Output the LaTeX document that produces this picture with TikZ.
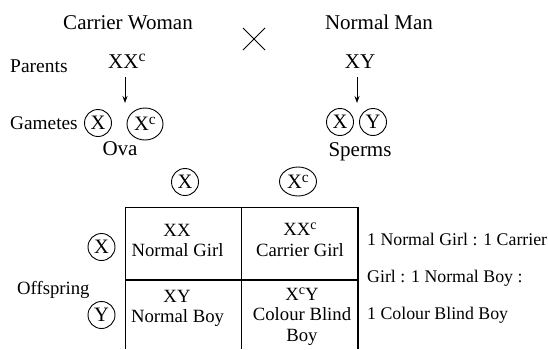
\documentclass[tikz,border=0pt]{standalone}
\usepackage{fontspec}
\usepackage{graphicx}
\setmainfont{Liberation Serif}
\usetikzlibrary{shapes.geometric,arrows.meta}
\newcommand{\supc}{\raisebox{0.3em}{\scalebox{0.75}{c}}}
\tikzset{
  bigt/.style={inner sep=0pt, font=\fontsize{21pt}{25pt}\selectfont},
  smallt/.style={inner sep=0pt, font=\fontsize{18.7pt}{22pt}\selectfont},
  ratiot/.style={inner sep=0pt, anchor=base west, font=\fontsize{17.8pt}{21pt}\selectfont},
  gam/.style={draw, line width=0.9pt, circle, inner sep=0pt, minimum size=27pt, font=\fontsize{20.5pt}{24pt}\selectfont},
  gamc/.style={draw, line width=0.9pt, ellipse, inner sep=0pt, minimum width=36pt, minimum height=31pt, font=\fontsize{20.5pt}{24pt}\selectfont},
  arr/.style={line width=1pt, -{Stealth[length=7pt,width=5pt]}},
  grid/.style={line width=1.1pt}
}
\begin{document}
\begin{tikzpicture}[x=1pt,y=-1pt]
\useasboundingbox (0,0) rectangle (548,349);
% titles
\node[bigt, anchor=base] (cw) at (128,29) {Carrier Woman};
\node[bigt, anchor=base] (nm) at (379,29) {Normal Man};
\coordinate (c1) at (243,28);
\coordinate (c2) at (265,50);
\coordinate (c3) at (243,50);
\coordinate (c4) at (265,28);
\draw[line width=0.8pt] (c1) -- (c2);
\draw[line width=0.8pt] (c3) -- (c4);
% parents
\node[smallt, anchor=base west, font=\fontsize{19.5pt}{23pt}\selectfont] (par) at (10,72) {Parents};
\node[bigt, anchor=base west] (xxc) at (108,68) {XX\supc};
\node[bigt, anchor=base] (xy) at (360,68) {XY};
\coordinate (a1s) at (125,77);
\coordinate (a1e) at (125,103);
\coordinate (a2s) at (357,77);
\coordinate (a2e) at (357,103);
\draw[arr] (a1s) -- (a1e);
\draw[arr] (a2s) -- (a2e);
% gametes
\node[smallt, anchor=base west, font=\fontsize{19.3pt}{23pt}\selectfont] (gm) at (10,129) {Gametes};
\node[gam] (ox) at (98,123) {X};
\node[gamc, minimum height=32pt] (oxc) at (145,124) {X\supc};
\node[bigt, anchor=base] (ova) at (120,155) {Ova};
\node[gam] (sx) at (340,122) {X};
\node[gam] (sy) at (373,122) {Y};
\node[bigt, anchor=base] (sp) at (360,156) {Sperms};
% header gametes
\node[gam] (hx) at (185,182) {X};
\node[gamc, minimum width=37pt, minimum height=29pt] (hxc) at (298,181.5) {X\supc};
\node[gam] (rx) at (101.5,247) {X};
\node[gam] (ry) at (101.5,315) {Y};
\node[smallt, anchor=base west] (off) at (17,294) {Offspring};
% table
\coordinate (tl) at (125.5,207.5);
\coordinate (tm) at (241.7,207.5);
\coordinate (tr) at (358,207.5);
\coordinate (bl) at (125.5,349);
\coordinate (bm) at (241.7,349);
\coordinate (br) at (358,349);
\coordinate (ml) at (125.5,280);
\coordinate (mr) at (358,280);
\draw[grid] (bl) -- (tl) -- (tr) -- (br);
\draw[grid] (tm) -- (bm);
\draw[grid] (ml) -- (mr);
% cells
\node[smallt, anchor=base] (c11a) at (177,236) {XX};
\node[smallt, anchor=base] (c11b) at (177.5,256) {Normal Girl};
\node[smallt, anchor=base] (c12a) at (300,235) {XX\supc};
\node[smallt, anchor=base] (c12b) at (300,256) {Carrier Girl};
\node[smallt, anchor=base] (c21a) at (177,302) {XY};
\node[smallt, anchor=base] (c21b) at (177.5,322) {Normal Boy};
\node[smallt, anchor=base] (c22a) at (302,300) {X\supc Y};
\node[smallt, anchor=base] (c22b) at (302,320) {Colour Blind};
\node[smallt, anchor=base] (c22c) at (302,341) {Boy};
% ratio
\node[ratiot] (r1) at (367,245) {1 Normal Girl : 1 Carrier};
\node[ratiot] (r2) at (367,282) {Girl : 1 Normal Boy :};
\node[ratiot] (r3) at (367,319) {1 Colour Blind Boy};
\end{tikzpicture}
\end{document}
